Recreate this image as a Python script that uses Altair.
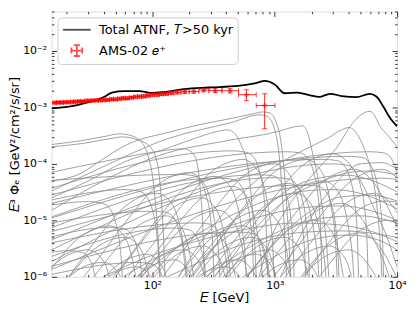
import altair as alt
import pandas as pd

# ---------------- data ----------------
# Total ATNF (T > 50 kyr) summed spectrum
TOTAL_E = [15, 21.4, 31.0, 41.0, 46.7, 59.5, 78.6, 100, 125, 181, 288, 503, 703, 830, 1000,
           1205, 1532, 1950, 2305, 2830, 3535, 4670, 5945, 6770, 7710, 8790, 10000]
TOTAL_F = [9.6e-4, 1.04e-3, 1.27e-3, 1.56e-3, 1.83e-3, 1.94e-3, 1.94e-3, 1.80e-3, 1.87e-3, 2.11e-3,
           2.25e-3, 2.40e-3, 2.69e-3, 2.94e-3, 2.54e-3, 1.78e-3, 1.83e-3, 1.63e-3, 1.53e-3, 1.74e-3,
           1.59e-3, 1.52e-3, 1.74e-3, 1.56e-3, 1.04e-3, 6.4e-4, 4.6e-4]

# AMS-02 positrons
AMS_E = [15.9, 17.0, 18.2, 19.4, 20.7, 22.1, 23.6, 25.2, 26.9, 28.7, 30.7, 32.8, 35.1, 37.6, 40.3,
         43.2, 46.4, 49.9, 53.7, 57.8, 62.3, 67.3, 72.7, 78.6, 85.1, 92.2, 100, 109, 118.5, 129,
         142, 160, 184, 218, 263, 326, 431, 587, 827]
AMS_F = [1.21e-3, 1.22e-3, 1.22e-3, 1.23e-3, 1.24e-3, 1.25e-3, 1.26e-3, 1.27e-3, 1.28e-3, 1.30e-3,
         1.31e-3, 1.32e-3, 1.33e-3, 1.34e-3, 1.35e-3, 1.36e-3, 1.39e-3, 1.39e-3, 1.42e-3, 1.45e-3,
         1.45e-3, 1.49e-3, 1.53e-3, 1.55e-3, 1.57e-3, 1.62e-3, 1.67e-3, 1.68e-3, 1.72e-3, 1.74e-3,
         1.80e-3, 1.85e-3, 1.89e-3, 1.91e-3, 2.03e-3, 1.99e-3, 1.97e-3, 1.68e-3, 1.08e-3]
AMS_ERR = [4.8e-5, 4.9e-5, 4.9e-5, 4.9e-5, 5.0e-5, 5.0e-5, 5.0e-5, 5.1e-5, 5.1e-5, 5.2e-5,
           5.2e-5, 5.3e-5, 5.3e-5, 5.4e-5, 5.4e-5, 6.2e-5, 6.2e-5, 6.3e-5, 6.4e-5, 7.2e-5,
           7.3e-5, 7.5e-5, 7.6e-5, 8.5e-5, 8.7e-5, 8.9e-5, 1.0e-4, 1.0e-4, 1.03e-4, 1.05e-4,
           1.1e-4, 1.15e-4, 1.2e-4, 1.25e-4, 1.4e-4, 1.6e-4, 1.7e-4, 3.7e-4, 6.6e-4]
AMS_EDGES = [15.4, 16.4, 17.6, 18.8, 20.0, 21.4, 22.8, 24.4, 26.0, 27.8, 29.7, 31.7, 33.9, 36.3,
             38.9, 41.7, 44.8, 48.1, 51.8, 55.7, 60.0, 64.7, 69.9, 75.6, 81.8, 88.6, 96.0, 104,
             113.6, 123.6, 135, 150, 171, 200, 240, 290, 370, 506, 706, 1004]

# individual pulsars: brightest ones
PSR_BRIGHT_E = [
    [15, 27, 42, 54, 69, 83, 94, 100, 106, 112, 118],
    [15, 27, 45, 57, 78, 94, 109, 116, 122, 128],
    [15, 27, 32, 65, 134, 238, 430, 664, 800, 911, 1020, 1120, 1183, 1251, 1322, 1360],
    [15, 37, 134, 440, 757, 877, 1000, 1077, 1140, 1205, 1260],
    [15, 37, 113, 416, 1097, 1425, 1687, 1885, 2030, 2270, 2490, 2690, 2800],
    [700, 900, 1300, 2030, 3160, 4500, 5500, 6000, 6600, 7000, 8500, 10000],
    [150, 200, 400, 700, 1000, 1810, 2790, 3500, 4050, 4870, 5530, 6250, 6900, 7400, 7600],
    [15, 30, 60, 124, 220, 330, 410, 480, 533, 600, 650, 690, 715],
    [15, 40, 100, 180, 210, 230, 245, 258, 268],
]
PSR_BRIGHT_F = [
    [2.2e-4, 2.6e-4, 3.1e-4, 3.4e-4, 3.1e-4, 2.3e-4, 1.2e-4, 6.3e-5, 2e-5, 4e-6, 5e-7],
    [2.0e-4, 2.3e-4, 2.8e-4, 3.0e-4, 2.6e-4, 2.1e-4, 1.1e-4, 4e-5, 8e-6, 6e-7],
    [5e-5, 7.1e-5, 9e-5, 2.3e-4, 3.6e-4, 4.9e-4, 6.3e-4, 7.7e-4, 8.3e-4, 8.0e-4, 5.6e-4, 2.6e-4, 9.4e-5, 1.9e-5, 2.5e-6, 5e-7],
    [3.3e-5, 8.3e-5, 2.8e-4, 5.4e-4, 7.4e-4, 6.8e-4, 4.0e-4, 1.7e-4, 4.2e-5, 5.6e-6, 6e-7],
    [1.5e-5, 4.6e-5, 1.4e-4, 2.6e-4, 3.8e-4, 4.5e-4, 4.7e-4, 3.2e-4, 1.6e-4, 5.1e-5, 1.25e-5, 2.5e-6, 6e-7],
    [6e-7, 4e-6, 1.8e-5, 6.3e-5, 1.85e-4, 5.8e-4, 8.2e-4, 8.5e-4, 7e-4, 5.3e-4, 3.1e-4, 2.0e-4],
    [7e-7, 2e-6, 1.5e-5, 5e-5, 9e-5, 1.85e-4, 2.95e-4, 4e-4, 4.4e-4, 3e-4, 1.6e-4, 6.3e-5, 1.5e-5, 2e-6, 5e-7],
    [2.5e-5, 5e-5, 1.1e-4, 1.8e-4, 2.8e-4, 3.7e-4, 4e-4, 3.3e-4, 2.1e-4, 9.4e-5, 2e-5, 3e-6, 5e-7],
    [7.1e-5, 1.1e-4, 1.6e-4, 1.85e-4, 1.6e-4, 1.1e-4, 4e-5, 8e-6, 6e-7],
]

# old pulsars entering from the left edge
PSR_OLD_E = [
    [15, 165, 215, 248, 277, 297, 314, 330],
    [15, 450, 585, 675, 756, 810, 855, 900],
    [15, 1250, 1625, 1875, 2100, 2250, 2375, 2500],
    [15, 60, 78, 90, 101, 108, 114, 120],
    [15, 2500, 3250, 3750, 4200, 4500, 4750, 5000],
    [15, 30, 39, 45, 50.4, 54, 57, 60],
    [15, 350, 455, 525, 588, 630, 665, 700],
    [15, 4000, 5200, 6000, 6720, 7200, 7600, 8000],
    [15, 100, 130, 150, 168, 180, 190, 200],
    [15, 750, 975, 1125, 1260, 1350, 1425, 1500],
    [15, 1750, 2275, 2625, 2940, 3150, 3325, 3500],
    [15, 45, 58.5, 67.5, 75.6, 81, 85.5, 90],
    [15, 6000, 7800, 9000, 10080],
    [15, 225, 293, 338, 378, 405, 428, 450],
    [15, 1000, 1300, 1500, 1680, 1800, 1900, 2000],
    [15, 20, 26, 30, 33.6, 36, 38, 40],
    [15, 150, 195, 225, 252, 270, 285, 300],
    [15, 3000, 3900, 4500, 5040, 5400, 5700, 6000],
    [15, 500, 650, 750, 840, 900, 950, 1000],
    [15, 7500, 10000],
    [15, 75, 97.5, 112.5, 126, 135, 142.5, 150],
]
PSR_OLD_F = [
    [5.1e-5, 6.5e-5, 6.2e-5, 4.9e-5, 2.6e-5, 1.2e-5, 2.3e-6, 6.5e-9],
    [3.7e-5, 1.7e-4, 1.6e-4, 1.3e-4, 6.8e-5, 3.1e-5, 6e-6, 1.7e-8],
    [2.8e-5, 1.64e-4, 1.56e-4, 1.23e-4, 6.6e-5, 3e-5, 5.7e-6, 1.6e-8],
    [2.3e-5, 3.5e-5, 3.3e-5, 2.6e-5, 1.4e-5, 6.3e-6, 1.2e-6, 3.5e-9],
    [2e-5, 1.2e-4, 1.14e-4, 9e-5, 4.8e-5, 2.2e-5, 4.2e-6, 1.2e-8],
    [1.87e-5, 2.15e-5, 2.0e-5, 1.6e-5, 8.6e-6, 3.9e-6, 7.5e-7, 2e-9],
    [1.15e-5, 5.6e-5, 5.3e-5, 4.2e-5, 2.2e-5, 1e-5, 2e-6, 5.6e-9],
    [1.1e-5, 1.36e-4, 1.3e-4, 1.0e-4, 5.4e-5, 2.4e-5, 4.8e-6, 1.4e-8],
    [9e-6, 1.45e-5, 1.38e-5, 1.1e-5, 5.8e-6, 2.6e-6, 5e-7, 1.5e-9],
    [7.4e-6, 6.4e-5, 6.1e-5, 4.8e-5, 2.6e-5, 1.15e-5, 2.2e-6, 6.4e-9],
    [6.3e-6, 4.2e-5, 4e-5, 3.2e-5, 1.7e-5, 7.6e-6, 1.5e-6, 4.2e-9],
    [5.1e-6, 7.5e-6, 7.1e-6, 5.6e-6, 3e-6, 1.35e-6, 2.6e-7, 7.5e-10],
    [4.5e-6, 1.64e-4, 1.56e-4, 1.23e-4, 6.6e-5],
    [4e-6, 9e-6, 8.6e-6, 6.8e-6, 3.6e-6, 1.6e-6, 3.2e-7, 9e-10],
    [3e-6, 5.7e-5, 5.4e-5, 4.3e-5, 2.3e-5, 1e-5, 2e-6, 5.7e-9],
    [2.7e-6, 2.9e-6, 2.75e-6, 2.2e-6, 1.15e-6, 5.2e-7, 1e-7, 3e-10],
    [2.3e-6, 7.3e-6, 6.9e-6, 5.5e-6, 2.9e-6, 1.3e-6, 2.6e-7, 7e-10],
    [1.87e-6, 1e-4, 9.5e-5, 7.5e-5, 4e-5, 1.8e-5, 3.5e-6, 1e-8],
    [1.53e-6, 6.2e-6, 5.9e-6, 4.7e-6, 2.5e-6, 1.1e-6, 2.2e-7, 6e-10],
    [1.35e-6, 5.6e-5, 5.3e-5],
    [1.1e-6, 1.8e-6, 1.7e-6, 1.35e-6, 7.2e-7, 3.2e-7, 6e-8, 2e-10],
]

# broad spectra reaching the right edge
PSR_BROAD_E = [
    [150, 300, 700, 1350, 2500, 3900, 6000, 10000],
    [60, 150, 400, 1000, 2000, 3000, 5000, 10000],
    [300, 600, 1200, 2500, 4000, 6000, 10000],
    [40, 100, 300, 800, 1800, 3500, 6000, 10000],
    [500, 1000, 2000, 3500, 6000, 10000],
    [25, 80, 250, 700, 1500, 3000, 6000, 10000],
    [1000, 1800, 3000, 5000, 7500, 10000],
    [200, 500, 1200, 2500, 5000, 10000],
    [80, 200, 600, 1500, 3500, 10000],
    [400, 900, 2000, 4000, 7000, 10000],
    [1500, 3000, 5000, 8000, 10000],
]
PSR_BROAD_F = [
    [7e-7, 3e-6, 1.2e-5, 3.7e-5, 5.8e-5, 6.3e-5, 5.2e-5, 3.2e-5],
    [6e-7, 3e-6, 1.1e-5, 2.5e-5, 3.4e-5, 3.5e-5, 3e-5, 1.6e-5],
    [6e-7, 5e-6, 2.2e-5, 5e-5, 7e-5, 7.5e-5, 6.3e-5],
    [6e-7, 2e-6, 6e-6, 1.2e-5, 1.7e-5, 1.8e-5, 1.5e-5, 1e-5],
    [6e-7, 4e-6, 1.5e-5, 2.6e-5, 2.8e-5, 2.2e-5],
    [6e-7, 2e-6, 4.5e-6, 7.5e-6, 9e-6, 8.5e-6, 6.5e-6, 4.2e-6],
    [6e-7, 8e-6, 4e-5, 1e-4, 1.05e-4, 8e-5],
    [6e-7, 2.5e-6, 7e-6, 1.1e-5, 1.2e-5, 9e-6],
    [6e-7, 1.5e-6, 4e-6, 6e-6, 6.5e-6, 5e-6],
    [6e-7, 2e-6, 4.5e-6, 5.5e-6, 4.5e-6, 3e-6],
    [6e-7, 5e-6, 1.6e-5, 2.2e-5, 2.1e-5],
]

# younger / distant pulsars rising from the bottom
PSR_YOUNG_E = [
    [12, 21, 33, 48, 60, 75, 87, 96, 105, 114],
    [18, 31.5, 49.5, 72, 90, 112, 130, 144, 157, 171],
    [26, 45.5, 71.5, 104, 130, 162, 188, 208, 227, 247],
    [36, 63, 99, 144, 180, 225, 261, 288, 315, 342],
    [25, 50, 87.5, 137.5, 200, 250, 312, 362, 400, 437, 475],
    [60, 105, 165, 240, 300, 375, 435, 480, 525, 570],
    [140, 220, 320, 400, 500, 580, 640, 700],
    [45, 90, 157, 247, 360, 450, 562, 652, 720, 787, 855],
    [110, 192, 302, 440, 550, 687, 797, 880, 962, 1045],
    [245, 385, 560, 700, 875, 1015, 1120, 1225],
    [160, 280, 440, 640, 800, 1000, 1160, 1280, 1400, 1520],
    [70, 100, 200, 350, 550, 800, 1000, 1250, 1450, 1600, 1750, 1900],
    [240, 420, 660, 960, 1200, 1500, 1740, 1920, 2100, 2280],
    [150, 300, 525, 825, 1200, 1500, 1875, 2175, 2400, 2625, 2850],
    [126, 180, 360, 630, 990, 1440, 1800, 2250, 2610, 2880, 3150, 3420],
    [440, 770, 1210, 1760, 2200, 2750, 3190, 3520, 3850, 4180],
    [250, 500, 875, 1375, 2000, 2500, 3125, 3625, 4000, 4375, 4750],
    [210, 300, 600, 1050, 1650, 2400, 3000, 3750, 4500, 5400, 6600, 8000, 10000],
    [700, 1225, 1925, 2800, 3500, 4375, 5250, 6300, 7700, 9500],
    [315, 450, 900, 1575, 2475, 3600, 4500, 5625, 6750, 8100, 9900],
    [1000, 1750, 2750, 4000, 5000, 6250, 7500, 9000, 11000],
    [650, 1300, 2275, 3575, 5200, 6500, 8125, 9750, 11700],
    [525, 750, 1500, 2625, 4125, 6000, 7500, 9375, 11250],
    [1700, 2975, 4675, 6800, 8500, 10625],
    [14, 20, 40, 70, 110, 160, 200, 250, 290, 320, 350, 380],
    [11, 22, 38.5, 60.5, 88, 110, 137.5, 159.5, 176, 192.5, 209],
    [38.5, 55, 110, 192.5, 302.5, 440, 550, 687.5, 797.5, 880, 962.5, 1045],
    [23, 33, 66, 115, 181, 264, 330, 412, 478, 528, 577, 627],
    [14, 22, 32, 40, 50, 58, 64, 70, 76],
    [26, 41, 60, 75, 94, 109, 120, 131, 142],
    [52, 82, 120, 150, 187, 217, 240, 262, 285],
    [52, 91, 143, 208, 260, 325, 377, 416, 455, 494],
    [175, 275, 400, 500, 625, 725, 800, 875, 950],
    [315, 495, 720, 900, 1125, 1305, 1440, 1575, 1710],
    [560, 880, 1280, 1600, 2000, 2320, 2560, 2800, 3040],
    [560, 980, 1540, 2240, 2800, 3500, 4060, 4480, 4900, 5320],
    [9, 15.75, 24.75, 36, 45, 56, 65, 72, 79, 85.5],
    [10.5, 16.5, 24, 30, 37.5, 43.5, 48, 52.5, 57],
    [70, 122, 192, 280, 350, 437, 507, 560, 612, 665],
    [130, 260, 455, 715, 1040, 1300, 1625, 1885, 2080, 2275, 2470],
    [130, 227, 357, 520, 650, 812, 942, 1040, 1137, 1235],
    [1400, 2200, 3200, 4000, 5000, 6000, 7200, 8800, 10000],
]
PSR_YOUNG_F = [
    [2e-7, 1e-6, 3e-6, 4.7e-6, 5e-6, 3.8e-6, 2e-6, 7.5e-7, 1.5e-7, 5e-10],
    [1e-7, 5e-7, 1.5e-6, 2.3e-6, 2.5e-6, 1.9e-6, 1e-6, 3.8e-7, 7.5e-8, 2.5e-10],
    [4.8e-7, 2.4e-6, 7.2e-6, 1.1e-5, 1.2e-5, 9e-6, 4.8e-6, 1.8e-6, 3.6e-7, 1.2e-9],
    [1.2e-7, 6e-7, 1.8e-6, 2.8e-6, 3e-6, 2.25e-6, 1.2e-6, 4.5e-7, 9e-8, 3e-10],
    [1.25e-7, 1e-6, 5e-6, 1.5e-5, 2.3e-5, 2.5e-5, 1.9e-5, 1e-5, 3.75e-6, 7.5e-7, 2.5e-9],
    [2.4e-7, 1.2e-6, 3.6e-6, 5.6e-6, 6e-6, 4.5e-6, 2.4e-6, 9e-7, 1.8e-7, 6e-10],
    [3e-7, 9e-7, 1.4e-6, 1.5e-6, 1.1e-6, 6e-7, 2.3e-7, 4.5e-8],
    [2e-7, 1.6e-6, 8e-6, 2.4e-5, 3.7e-5, 4e-5, 3e-5, 1.6e-5, 6e-6, 1.2e-6, 4e-9],
    [3.2e-7, 1.6e-6, 4.8e-6, 7.4e-6, 8e-6, 6e-6, 3.2e-6, 1.2e-6, 2.4e-7, 8e-10],
    [5e-7, 1.5e-6, 2.3e-6, 2.5e-6, 1.9e-6, 1e-6, 3.8e-7, 7.5e-8],
    [6e-7, 3e-6, 9e-6, 1.4e-5, 1.5e-5, 1.1e-5, 6e-6, 2.2e-6, 4.5e-7, 1.5e-9],
    [1e-7, 5e-7, 4e-6, 2e-5, 6e-5, 9.3e-5, 1e-4, 7.5e-5, 4e-5, 1.5e-5, 3e-6, 1e-8],
    [2e-7, 1e-6, 3e-6, 4.65e-6, 5e-6, 3.75e-6, 2e-6, 7.5e-7, 1.5e-7, 5e-10],
    [1.5e-7, 1.2e-6, 6e-6, 1.8e-5, 2.8e-5, 3e-5, 2.25e-5, 1.2e-5, 4.5e-6, 9e-7, 3e-9],
    [1.2e-7, 6e-7, 4.8e-6, 2.4e-5, 7.2e-5, 1.1e-4, 1.2e-4, 9e-5, 4.8e-5, 1.8e-5, 3.6e-6, 1.2e-8],
    [4e-7, 2e-6, 6e-6, 9.3e-6, 1e-5, 7.5e-6, 4e-6, 1.5e-6, 3e-7, 1e-9],
    [2.5e-7, 2e-6, 1e-5, 3e-5, 4.65e-5, 5e-5, 3.75e-5, 2e-5, 7.5e-6, 1.5e-6, 5e-9],
    [1.5e-7, 7.5e-7, 6e-6, 3e-5, 9e-5, 1.4e-4, 1.5e-4, 1.2e-4, 7.5e-5, 3.75e-5, 1.5e-5, 6e-6, 1.5e-6],
    [8e-7, 4e-6, 1.2e-5, 1.86e-5, 2e-5, 1.6e-5, 1e-5, 5e-6, 2e-6, 5e-7],
    [8e-8, 4e-7, 3.2e-6, 1.6e-5, 4.8e-5, 7.4e-5, 8e-5, 6.4e-5, 4e-5, 2e-5, 8e-6],
    [2.4e-7, 1.2e-6, 3.6e-6, 5.6e-6, 6e-6, 4.8e-6, 3e-6, 1.5e-6, 6e-7],
    [1.5e-7, 1.2e-6, 6e-6, 1.8e-5, 2.8e-5, 3e-5, 2.4e-5, 1.5e-5, 7.5e-6],
    [8e-8, 4e-7, 3.2e-6, 1.6e-5, 4.8e-5, 7.4e-5, 8e-5, 6.4e-5, 4e-5],
    [4e-7, 2e-6, 6e-6, 9.3e-6, 1e-5, 8e-6],
    [7e-8, 3.5e-7, 2.8e-6, 1.4e-5, 4.2e-5, 6.5e-5, 7e-5, 5.25e-5, 2.8e-5, 1.05e-5, 2.1e-6, 7e-9],
    [1.5e-7, 1.2e-6, 6e-6, 1.8e-5, 2.8e-5, 3e-5, 2.25e-5, 1.2e-5, 4.5e-6, 9e-7, 3e-9],
    [1.2e-7, 6e-7, 4.8e-6, 2.4e-5, 7.2e-5, 1.1e-4, 1.2e-4, 9e-5, 4.8e-5, 1.8e-5, 3.6e-6, 1.2e-8],
    [6e-8, 3e-7, 2.4e-6, 1.2e-5, 3.6e-5, 5.6e-5, 6e-5, 4.5e-5, 2.4e-5, 9e-6, 1.8e-6, 6e-9],
    [3.6e-7, 1.1e-6, 1.7e-6, 1.8e-6, 1.35e-6, 7.2e-7, 2.7e-7, 5.4e-8, 1.8e-10],
    [3e-7, 9e-7, 1.4e-6, 1.5e-6, 1.1e-6, 6e-7, 2.3e-7, 4.5e-8, 1.5e-10],
    [4e-7, 1.2e-6, 1.86e-6, 2e-6, 1.5e-6, 8e-7, 3e-7, 6e-8, 2e-10],
    [1.4e-7, 7e-7, 2.1e-6, 3.25e-6, 3.5e-6, 2.6e-6, 1.4e-6, 5.25e-7, 1e-7, 3.5e-10],
    [4e-7, 1.2e-6, 1.86e-6, 2e-6, 1.5e-6, 8e-7, 3e-7, 6e-8, 2e-10],
    [6e-7, 1.8e-6, 2.8e-6, 3e-6, 2.25e-6, 1.2e-6, 4.5e-7, 9e-8, 3e-10],
    [4e-7, 1.2e-6, 1.86e-6, 2e-6, 1.5e-6, 8e-7, 3e-7, 6e-8, 2e-10],
    [1.4e-7, 7e-7, 2.1e-6, 3.25e-6, 3.5e-6, 2.6e-6, 1.4e-6, 5.25e-7, 1e-7, 3.5e-10],
    [3.2e-7, 1.6e-6, 4.8e-6, 7.4e-6, 8e-6, 6e-6, 3.2e-6, 1.2e-6, 2.4e-7, 8e-10],
    [6e-7, 1.8e-6, 2.8e-6, 3e-6, 2.25e-6, 1.2e-6, 4.5e-7, 9e-8, 3e-10],
    [6e-7, 3e-6, 9e-6, 1.4e-5, 1.5e-5, 1.1e-5, 6e-6, 2.25e-6, 4.5e-7, 1.5e-9],
    [2.2e-7, 1.8e-6, 9e-6, 2.7e-5, 4.2e-5, 4.5e-5, 3.4e-5, 1.8e-5, 6.75e-6, 1.35e-6, 4.5e-9],
    [2e-7, 1e-6, 3e-6, 4.65e-6, 5e-6, 3.75e-6, 2e-6, 7.5e-7, 1.5e-7, 5e-10],
    [6e-7, 1.8e-6, 2.8e-6, 3e-6, 2.4e-6, 1.5e-6, 7.5e-7, 3e-7, 1.5e-7],
]

SERIES = ["Total ATNF, \U0001D447>50 kyr", "AMS-02 \U0001D452\u207A"]
X_DOMAIN = [15, 10000]
Y_DOMAIN = [1e-6, 5e-2]
X_MAJOR = [100, 1000, 10000]
X_MAJOR_LABELS = ["10\u00b2", "10\u00b3", "10\u2074"]
X_MINOR = [20, 30, 40, 50, 60, 70, 80, 90, 200, 300, 400, 500, 600, 700, 800, 900,
           2000, 3000, 4000, 5000, 6000, 7000, 8000, 9000]
Y_MAJOR = [1e-6, 1e-5, 1e-4, 1e-3, 1e-2]
Y_MAJOR_LABELS = ["10\u207b\u2076", "10\u207b\u2075", "10\u207b\u2074", "10\u207b\u00b3", "10\u207b\u00b2"]
Y_MINOR = [2e-6, 3e-6, 4e-6, 5e-6, 6e-6, 7e-6, 8e-6, 9e-6,
           2e-5, 3e-5, 4e-5, 5e-5, 6e-5, 7e-5, 8e-5, 9e-5,
           2e-4, 3e-4, 4e-4, 5e-4, 6e-4, 7e-4, 8e-4, 9e-4,
           2e-3, 3e-3, 4e-3, 5e-3, 6e-3, 7e-3, 8e-3, 9e-3,
           2e-2, 3e-2, 4e-2, 5e-2]

# ---------------- tables ----------------
total_df = pd.DataFrame({"E": TOTAL_E, "F": TOTAL_F})

ams_df = pd.DataFrame({
    "E": AMS_E, "F": AMS_F,
    "lo": AMS_EDGES[:-1], "hi": AMS_EDGES[1:],
    "flo": [f - e for f, e in zip(AMS_F, AMS_ERR)],
    "fhi": [f + e for f, e in zip(AMS_F, AMS_ERR)],
    "series": SERIES[1],
})

rows = []
cid = 0
for group_e, group_f in [(PSR_BRIGHT_E, PSR_BRIGHT_F), (PSR_OLD_E, PSR_OLD_F),
                         (PSR_BROAD_E, PSR_BROAD_F), (PSR_YOUNG_E, PSR_YOUNG_F)]:
    for es, fs in zip(group_e, group_f):
        assert len(es) == len(fs), (cid, len(es), len(fs))
        for e, f in zip(es, fs):
            rows.append((cid, e, f))
        cid += 1
psr_df = pd.DataFrame(rows, columns=["id", "E", "F"])

# ---------------- axes ----------------
FONT = "DejaVu Sans"
TICK = 5


def label_expr(vals, labels):
    expr = "''"
    for v, l in reversed(list(zip(vals, labels))):
        expr = f"datum.value == {v!r} ? '{l}' : ({expr})"
    return expr


def make_axis(orient, majors, minors, labels=None, title=None, **kw):
    test = "indexof([" + ",".join(repr(v) for v in majors) + "], datum.value) < 0"
    args = dict(
        orient=orient, values=sorted(majors + minors), domain=False, grid=False,
        ticks=True, tickSize=TICK, offset=-TICK, tickColor="black", tickWidth=0.8,
        tickDash={"condition": {"test": test, "value": [0, 2.6, 2.4, 0]}, "value": [TICK, 0]},
        title=title,
    )
    if labels is None:
        args["labels"] = False
    else:
        args.update(labelExpr=label_expr(majors, labels), labelFont=FONT, labelFontSize=11,
                    labelColor="black", labelOverlap=False, labelFlush=False)
    args.update(kw)
    return alt.Axis(**args)


ax_bottom = make_axis("bottom", X_MAJOR, X_MINOR, X_MAJOR_LABELS, title="\U0001D438 [GeV]",
                      labelPadding=3, titlePadding=1, titleFont=FONT, titleFontSize=13,
                      titleFontWeight="normal", titleColor="black")
ax_left = make_axis("left", Y_MAJOR, Y_MINOR, Y_MAJOR_LABELS,
                    title="\U0001D438\u00b3 \u03a6\u2091 [GeV\u00b2/cm\u00b2/s/sr]",
                    labelPadding=5, titlePadding=1, titleFont=FONT, titleFontSize=13,
                    titleFontWeight="normal", titleColor="black")
ax_top = make_axis("top", X_MAJOR, X_MINOR)
ax_right = make_axis("right", Y_MAJOR, Y_MINOR)

xs = alt.Scale(type="log", domain=X_DOMAIN, nice=False)
ys = alt.Scale(type="log", domain=Y_DOMAIN, nice=False)


def X(field):
    return alt.X(field, type="quantitative", scale=xs, axis=ax_bottom)


def Y(field):
    return alt.Y(field, type="quantitative", scale=ys, axis=ax_left)


# ---------------- layers ----------------
psr = alt.Chart(psr_df).mark_line(
    color="#8f8f8f", strokeWidth=0.85, interpolate="monotone", clip=True
).encode(x=X("E"), y=Y("F"), detail="id:N")

total = alt.Chart(total_df).mark_line(
    color="black", strokeWidth=1.8, interpolate="monotone", clip=True
).encode(x=X("E"), y=Y("F"))

RED = "#ff0000"
xerr = alt.Chart(ams_df).mark_rule(color=RED, strokeWidth=1, opacity=0.85, clip=True).encode(
    x=X("lo"), x2="hi", y=Y("F"))
yerr = alt.Chart(ams_df).mark_rule(color=RED, strokeWidth=1, opacity=0.85, clip=True).encode(
    x=X("E"), y=Y("flo"), y2="fhi")
capx = alt.Chart(ams_df).transform_fold(["lo", "hi"], as_=["k", "xv"]).mark_tick(
    orient="vertical", size=5, thickness=1, color=RED, opacity=0.75, clip=True
).encode(x=X("xv:Q"), y=Y("F"))
capy = alt.Chart(ams_df).transform_fold(["flo", "fhi"], as_=["k", "yv"]).mark_tick(
    orient="horizontal", size=5, thickness=1, color=RED, opacity=0.75, clip=True
).encode(x=X("E"), y=Y("yv:Q"))

LINE_PATH = "M-1.87,0H1.87"
CROSS_PATH = ("M-0.73,0H0.73M0,-0.73V0.73M-0.73,-0.4V0.4M0.73,-0.4V0.4"
              "M-0.4,-0.73H0.4M-0.4,0.73H0.4")
legend = alt.Legend(
    title=None, orient="top-left", offset=6, padding=4, fillColor="white",
    strokeColor="#cccccc", cornerRadius=4, symbolSize=225, symbolStrokeWidth=1.8,
    symbolOffset=7, labelOffset=14, rowPadding=4, labelFont=FONT, labelFontSize=13,
    labelColor="black",
)
markers = alt.Chart(ams_df).mark_point(filled=False, size=20, strokeWidth=1.2, clip=True).encode(
    x=X("E"), y=Y("F"),
    color=alt.Color("series:N", scale=alt.Scale(domain=SERIES, range=["black", RED]), legend=legend),
    shape=alt.Shape("series:N", scale=alt.Scale(domain=SERIES, range=[LINE_PATH, CROSS_PATH]),
                    legend=legend),
)

inner = alt.layer(psr, total, xerr, yerr, capx, capy, markers)

axis_layer = alt.Chart(total_df).mark_line(opacity=0).encode(
    x=alt.X("E", type="quantitative", scale=xs, axis=ax_top),
    y=alt.Y("F", type="quantitative", scale=ys, axis=ax_right),
)

chart = alt.layer(inner, axis_layer).resolve_axis(x="independent", y="independent").properties(
    width=349, height=268,
    padding={"left": 0, "top": -4, "right": 0, "bottom": 0},
    background="white",
).configure_view(stroke="black", strokeWidth=1).configure(font=FONT)

chart.save("out.html", embed_options={"renderer": "svg", "actions": False})
